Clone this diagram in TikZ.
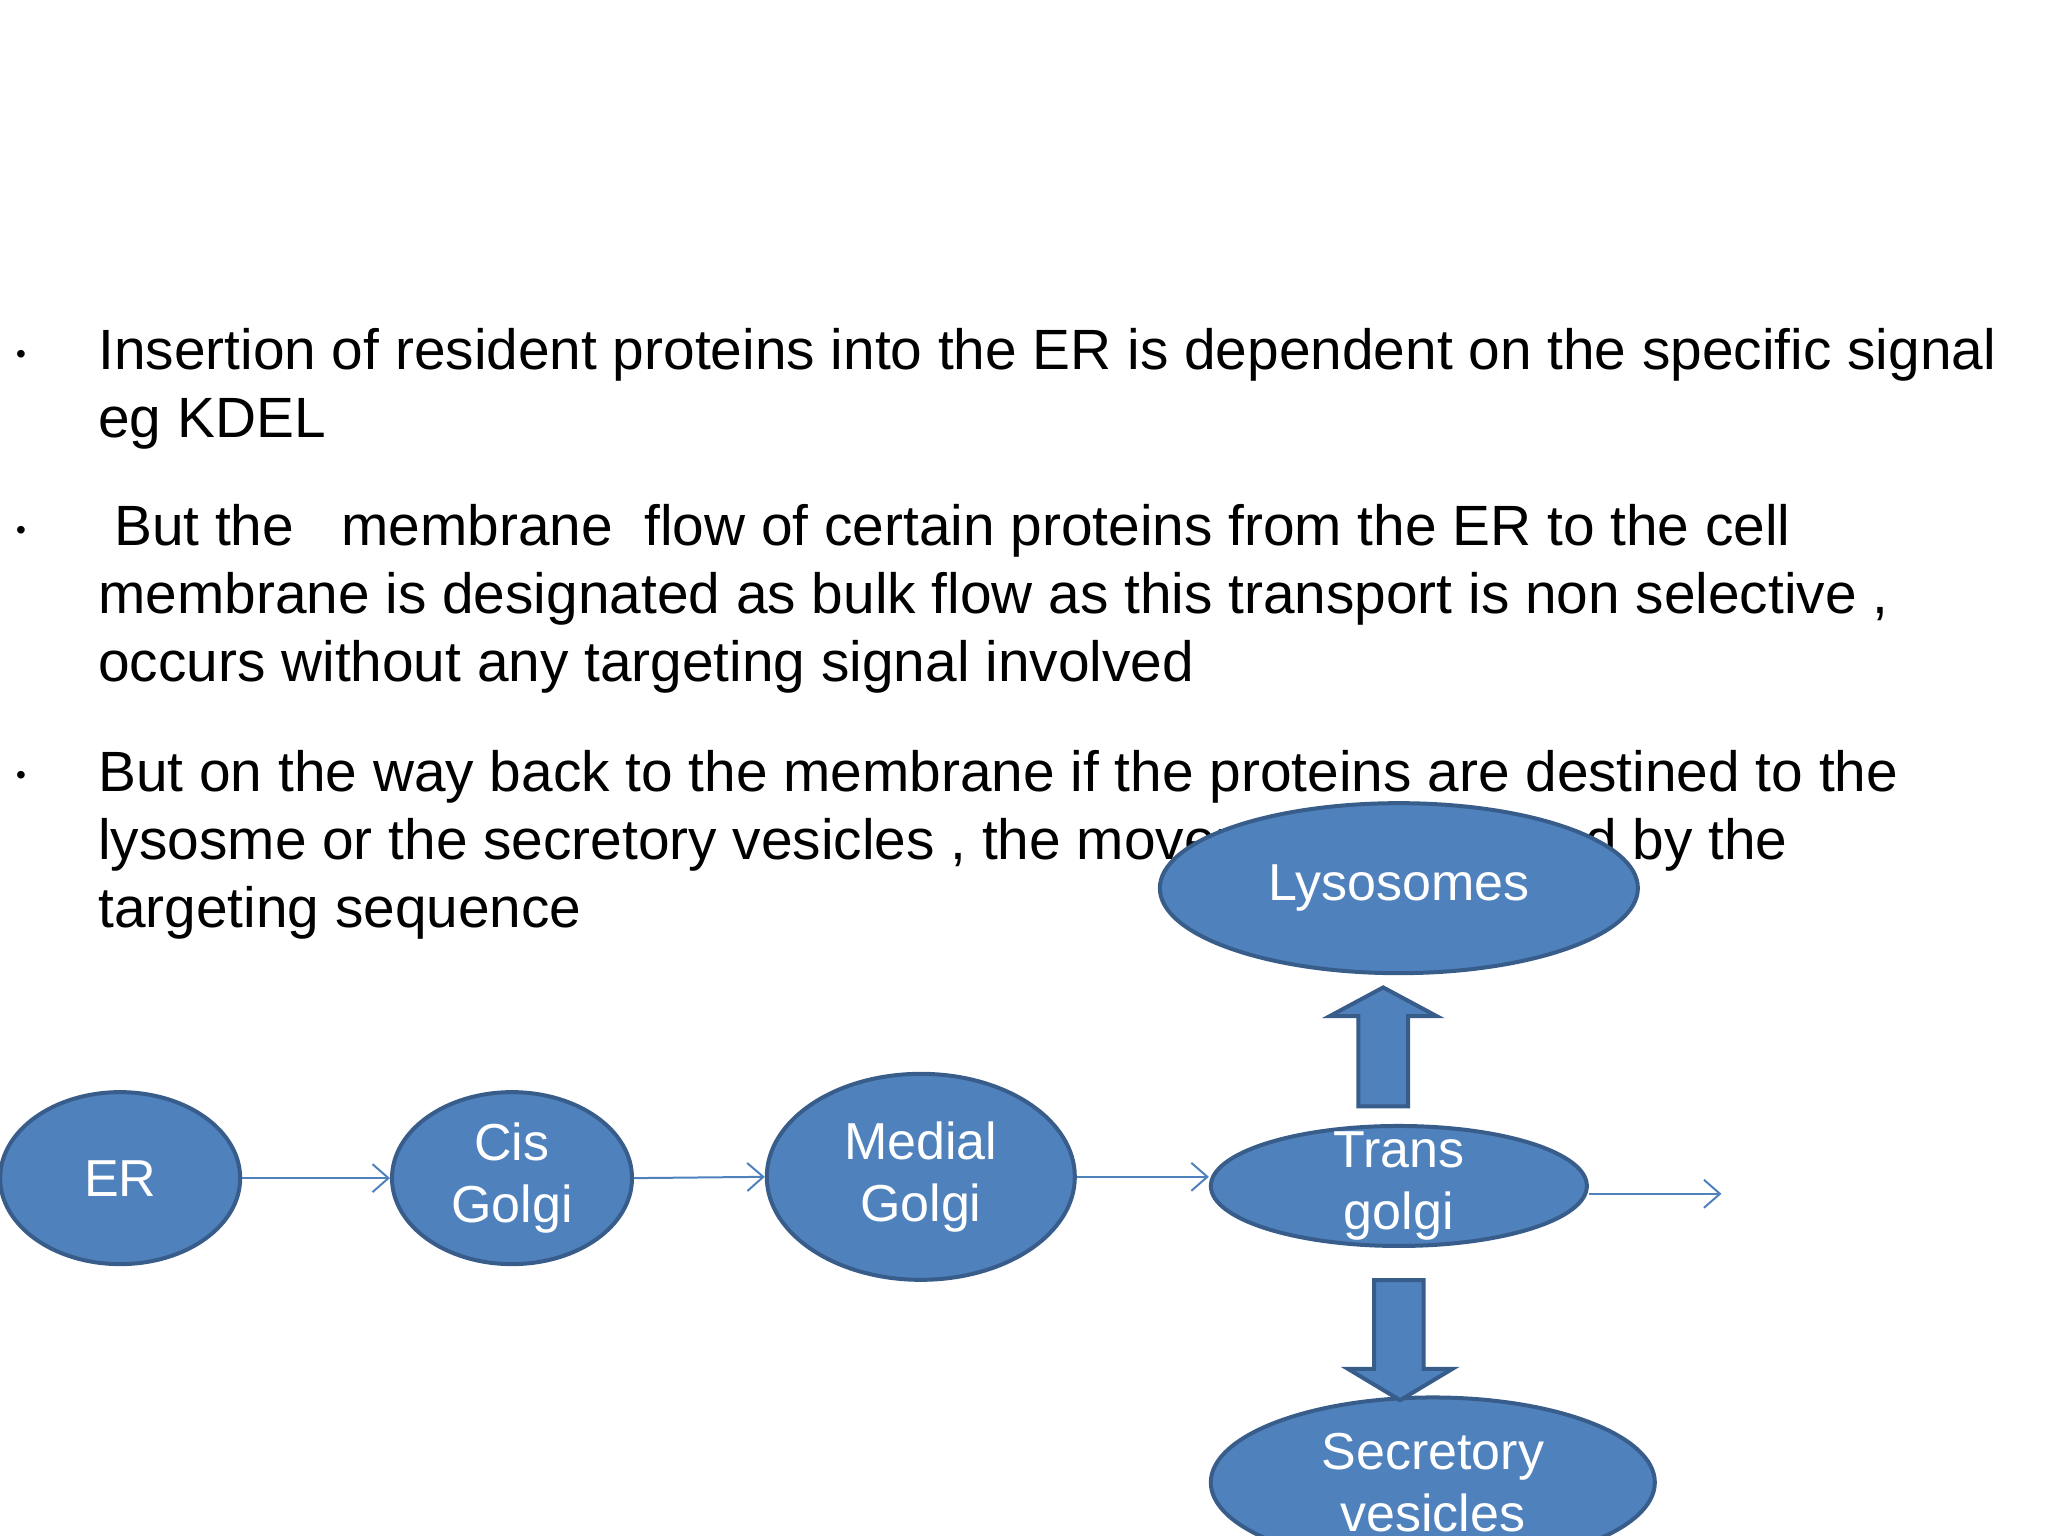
\documentclass[tikz,border=0pt]{standalone}
\usepackage{fontspec}
\setmainfont{Liberation Sans}
\usetikzlibrary{arrows.meta,shapes.geometric}
\definecolor{fillb}{HTML}{4F81BD}
\definecolor{edgeb}{HTML}{385D8A}
\begin{document}
\begin{tikzpicture}[x=0.653pt,y=-0.653pt,
  org/.style={ellipse,draw=edgeb,fill=fillb,line width=2pt,text=white,align=center,inner sep=0pt,font=\fontsize{26}{31}\selectfont},
  flow/.style={draw=fillb,line width=1pt,-{Straight Barb[length=8pt,width=14pt]}},
  blk/.style={draw=edgeb,fill=fillb,line width=2pt,line join=miter},
  txt/.style={anchor=base west,inner sep=0pt,font=\fontsize{28.4}{34}\selectfont},
  bul/.style={anchor=base west,inner sep=0pt,font=\fontsize{14}{14}\selectfont}]
\useasboundingbox (0,0) rectangle (1568,1176);
\clip (0,0) rectangle (1568,1176);
\node[bul] (b1) at (12,278) {•};
\node[bul] (b2) at (12,413) {•};
\node[bul] (b3) at (12,601) {•};
\node[txt] (l1) at (75,283) {Insertion of resident proteins into the ER is dependent on the specific signal};
\node[txt] (l2) at (75,335) {eg KDEL};
\node[txt] (l3) at (75,418) {\ But the \ \ membrane \ flow of certain proteins from the ER to the cell};
\node[txt] (l4) at (75,470) {membrane is designated as bulk flow as this transport is non selective ,};
\node[txt] (l5) at (75,522) {occurs without any targeting signal involved};
\node[txt] (l6) at (75,606) {But on the way back to the membrane if the proteins are destined to the};
\node[txt] (l7) at (75,658) {lysosme or the secretory vesicles , the movement is directed by the};
\node[txt] (l8) at (75,710) {targeting sequence};

\node[org,minimum width=120pt,minimum height=86pt] (er) at (92,902) {ER};
\node[org,minimum width=120pt,minimum height=86pt] (cis) at (392,902) {\raisebox{-4pt}{Cis}\\\raisebox{-4pt}{Golgi}};
\node[org,minimum width=154pt,minimum height=103pt] (med) at (705,901) {\raisebox{-4pt}{Medial}\\\raisebox{-4pt}{Golgi}};
\node[org,minimum width=188pt,minimum height=60pt,inner ysep=-18pt] (tr) at (1071,908) {Trans\\golgi};
\node[org,minimum width=239pt,minimum height=85pt] (lys) at (1071,680) {\raisebox{-4pt}{Lysosomes}};
\node[org,minimum width=222pt,minimum height=85pt] (sec) at (1097,1135) {\raisebox{-14pt}{Secretory}\\\raisebox{-14pt}{vesicles}};
\coordinate (out) at (1318,914);

\draw[flow] (er.east) -- (cis.west);
\draw[flow] (cis.east) -- (med.west);
\draw[flow] (med.east) -- (med.east -| tr.west);
\draw[flow] (tr.east |- out) -- (out);

\draw[blk] (1040,847) -- (1040,778) -- (1018,778) -- (1059,756) -- (1100,778) -- (1078,778) -- (1078,847) -- cycle;
\draw[blk] (1052,980) -- (1052,1048) -- (1032,1048) -- (1072,1072) -- (1112,1048) -- (1090,1048) -- (1090,980) -- cycle;
\end{tikzpicture}
\end{document}
